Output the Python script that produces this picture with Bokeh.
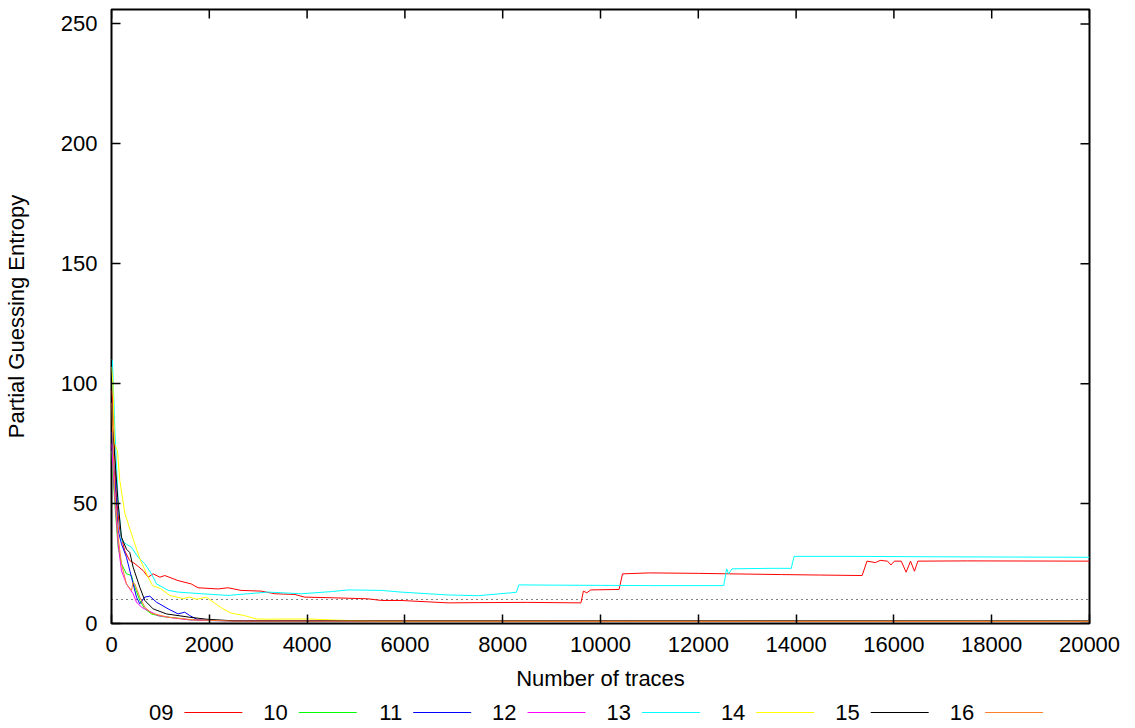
from bokeh.plotting import figure
from bokeh.models import Range1d, FixedTicker
from bokeh.layouts import column
from bokeh.core.properties import value
from bokeh.embed import file_html
from bokeh.resources import INLINE

FONT = "Liberation Sans"

labels = ["09", "10", "11", "12", "13", "14", "15", "16"]
colors = ["#ff0000", "#00ff00", "#0000ff", "#ff00ff", "#00ffff", "#ffff00", "#000000", "#ff7f2a"]

x_09 = [0, 30, 100, 170, 270, 370, 480, 650, 750, 850, 990, 1090, 1360, 1630, 1770, 2180, 2380, 2650,
        3060, 3340, 3750, 3950, 4560, 5240, 5520, 5920, 6880, 7500, 8500, 9600, 9650, 9720, 9800, 10380,
        10450, 11000, 12000, 13000, 13700, 14500, 15350, 15450, 15620, 15720, 15870, 15940, 16010, 16150,
        16250, 16340, 16420, 16490, 17500, 20000]
y_09 = [97, 92, 52.6, 38.8, 30.4, 26.3, 24.9, 22, 19.3, 20.7, 19.3, 20, 17.9, 16.5, 14.9, 14.4, 14.9, 13.8,
        13.5, 12.4, 12.1, 11, 10.7, 10.3, 9.6, 9.6, 8.6, 8.7, 8.8, 8.6, 13.5, 12.8, 14, 14.2,
        20.7, 21.1, 20.9, 20.6, 20.4, 20.2, 20.0, 26, 25.4, 26.3, 26, 24.4, 26, 26,
        21.4, 26, 21.8, 26, 26.1, 26.0]

x_10 = [0, 68, 136, 204, 306, 408, 476, 579, 681, 817, 1022, 1294, 1600, 2500, 20000]
y_10 = [72, 50, 31.8, 24.9, 20.7, 20, 15.2, 9.6, 6.1, 4, 2.9, 2.4, 1.5, 1.1, 1.0]

x_11 = [0, 68, 136, 204, 306, 408, 511, 579, 681, 783, 919, 1158, 1362, 1498, 1600, 1770, 2043, 3000, 20000]
y_11 = [80, 61, 38.8, 33.2, 27.6, 19.3, 11, 8.2, 11, 11.4, 8.9, 6.1, 4, 4.7, 3.3, 1.5, 1.2, 1.0, 0.9]

x_12 = [0, 68, 136, 204, 306, 374, 442, 511, 613, 749, 953, 1226, 1600, 2500, 20000]
y_12 = [75, 52.6, 33.2, 22, 16.5, 14.4, 12.4, 8.9, 6.8, 5.4, 3.3, 2.4, 1.5, 1.1, 1.0]

x_13 = [0, 20, 70, 136, 204, 272, 408, 545, 681, 817, 920, 1160, 1360, 1840, 2380, 3200, 3880, 4500,
        4840, 5520, 5920, 6880, 7500, 8170, 8280, 8330, 9000, 10000, 11000, 12520, 12580, 12620, 12690,
        13480, 13900, 13960, 15000, 17000, 20000]
y_13 = [110, 109.6, 80, 51, 34.6, 33.5, 31.8, 27.6, 24.9, 20.7, 16.5, 13.8, 13.1, 12.4, 11.7, 13.1, 12.4, 13.3,
        14, 13.8, 13.1, 11.9, 11.6, 12.8, 13, 16.1, 16.0, 15.9, 15.8, 15.8, 22.8, 20.7, 22.8,
        23, 23, 28, 28, 27.8, 27.6]

x_14 = [0, 30, 60, 122, 170, 275, 442, 579, 749, 840, 1000, 1190, 1460, 1600, 1740, 1940, 2080, 2280,
        2450, 2720, 2960, 3170, 4020, 4500, 4840, 5500, 20000]
y_14 = [107, 100, 75, 72, 59.6, 45.7, 35.3, 27, 19.3, 15.8, 14.6, 11.7, 10.4, 11, 10.1, 11, 8.9, 6.1,
        4.3, 3.3, 1.9, 1.8, 1.9, 1.5, 1.25, 1.0, 1.0]

x_15 = [0, 20, 68, 136, 204, 306, 374, 442, 579, 681, 851, 1124, 1600, 1940, 2500, 20000]
y_15 = [93, 82, 69.3, 50, 36, 31, 29.6, 23.5, 15.1, 9.6, 6.1, 4, 2.6, 1.8, 1.1, 1.0]

x_16 = [0, 68, 136, 204, 306, 408, 442, 476, 579, 681, 817, 1158, 1702, 2500, 20000]
y_16 = [92, 55, 36, 24.9, 16.5, 13.8, 17.2, 16.5, 11, 6.8, 4.3, 2.6, 1.5, 1.0, 0.8]

xs = [x_09, x_10, x_11, x_12, x_13, x_14, x_15, x_16]
ys = [y_09, y_10, y_11, y_12, y_13, y_14, y_15, y_16]

threshold = 10
x_ticks = list(range(0, 20001, 2000))
y_ticks = [0, 50, 100, 150, 200, 250]
X_MAX = 20000
Y_MAX = 256

W = 1135
H_MAIN = 700
H_LEG = 28
FRAME_L, FRAME_R, FRAME_T, FRAME_B = 110, 1089, 9, 623
TICK_PX = 9

p = figure(width=W, height=H_MAIN, output_backend="svg", toolbar_location=None,
           x_range=Range1d(0, X_MAX), y_range=Range1d(0, Y_MAX),
           min_border_left=FRAME_L, min_border_right=W - FRAME_R,
           min_border_top=FRAME_T, min_border_bottom=H_MAIN - FRAME_B)
p.grid.visible = False
p.outline_line_color = "black"
p.outline_line_width = 2
p.background_fill_color = "white"
p.border_fill_color = "white"

p.line([0, X_MAX], [threshold, threshold], line_color="black", line_width=1, line_dash="1 4")

for xv, yv, c in zip(xs, ys, colors):
    p.line(xv, yv, line_color=c, line_width=1)

for ax in (p.xaxis[0], p.yaxis[0]):
    ax.axis_line_color = None
    ax.major_tick_in = TICK_PX
    ax.major_tick_out = 0
    ax.minor_tick_line_color = None
    ax.major_tick_line_color = "black"
    ax.major_tick_line_width = 1.5
    ax.major_label_text_font = FONT
    ax.major_label_text_color = "black"
    ax.major_label_text_font_size = "22px"
    ax.axis_label_text_font = FONT
    ax.axis_label_text_font_style = "normal"
    ax.axis_label_text_color = "black"
    ax.axis_label_text_font_size = "22px"

p.xaxis.ticker = FixedTicker(ticks=x_ticks)
p.yaxis.ticker = FixedTicker(ticks=y_ticks)
p.xaxis.axis_label = "Number of traces"
p.yaxis.axis_label = "Partial Guessing Entropy"
p.xaxis.major_label_standoff = 13
p.xaxis.axis_label_standoff = 11
p.yaxis.major_label_standoff = 14
p.yaxis.axis_label_standoff = 29

# mirrored ticks on top and right edges (gnuplot style), drawn inward
dy_tick = TICK_PX * Y_MAX / (FRAME_B - FRAME_T)
dx_tick = TICK_PX * X_MAX / (FRAME_R - FRAME_L)
p.segment(x0=x_ticks, y0=[Y_MAX] * len(x_ticks), x1=x_ticks, y1=[Y_MAX - dy_tick] * len(x_ticks),
          line_color="black", line_width=1.5)
p.segment(x0=[X_MAX] * len(y_ticks), y0=y_ticks, x1=[X_MAX - dx_tick] * len(y_ticks), y1=y_ticks,
          line_color="black", line_width=1.5)

# legend strip below the plot (label followed by line sample, gnuplot style)
# its frame is aligned with the main frame by the column layout, so data x == page x
leg = figure(width=W, height=H_LEG, output_backend="svg", toolbar_location=None,
             x_range=Range1d(FRAME_L, FRAME_R), y_range=Range1d(0, H_LEG),
             min_border=0, min_border_left=FRAME_L, min_border_right=W - FRAME_R,
             x_axis_type=None, y_axis_type=None)
leg.grid.visible = False
leg.outline_line_color = None
spacing = 114.5
x_lab = [172 + spacing * i for i in range(len(labels))]
y_mid = [H_LEG - 12] * len(labels)
leg.text(x=x_lab, y=y_mid, text=labels, text_align="right", text_baseline="middle",
         text_font=value(FONT), text_font_size="22px", text_color="black")
leg.segment(x0=[x + 11 for x in x_lab], y0=y_mid, x1=[x + 69 for x in x_lab], y1=y_mid,
            line_color=colors, line_width=1)

layout = column(p, leg, spacing=0)
open("out.html", "w").write(file_html(layout, INLINE))
